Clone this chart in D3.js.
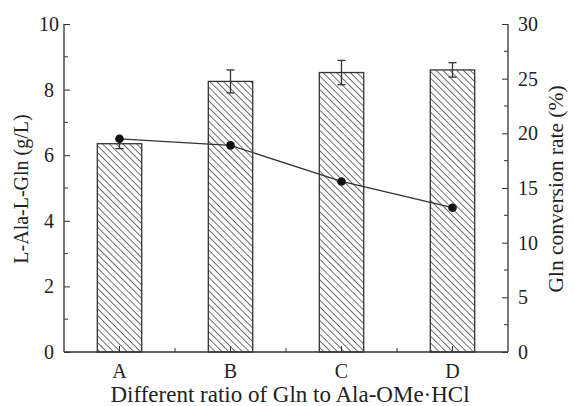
<!DOCTYPE html>
<html>
<head>
<meta charset="utf-8">
<script src="https://cdn.jsdelivr.net/npm/d3@7"></script>
<style>
  body { margin: 0; background: #fff; }
  svg { display: block; }
  text { font-family: "Liberation Serif", "Times New Roman", serif; fill: #222; }
</style>
</head>
<body>
<svg id="chart" width="574" height="406"></svg>
<script>
// Categories and measured values
const categories = ["A", "B", "C", "D"];
const dipeptide = [6.35, 8.25, 8.52, 8.6];       // L-Ala-L-Gln (g/L)
const dipeptideErr = [0.15, 0.35, 0.37, 0.22];   // error bar half-widths
const conversion = [19.5, 18.9, 15.6, 13.2];     // Gln conversion rate (%)
const leftTicks = [0, 2, 4, 6, 8, 10];
const rightTicks = [0, 5, 10, 15, 20, 25, 30];

const svg = d3.select("#chart");
const m = { left: 64, right: 66, top: 24, bottom: 54 };
const W = 574, H = 406;
const x0 = m.left, x1 = W - m.right, y0 = H - m.bottom, y1 = m.top;
const ink = "#333";

const x = d3.scaleBand().domain(categories).range([x0, x1]).paddingInner(0.6).paddingOuter(0.3);
const yL = d3.scaleLinear().domain([0, 10]).range([y0, y1]);
const yR = d3.scaleLinear().domain([0, 30]).range([y0, y1]);

// Diagonal hatch pattern for the bars
const hs = 4.8;
const defs = svg.append("defs");
const pat = defs.append("pattern")
  .attr("id", "hatch").attr("patternUnits", "userSpaceOnUse")
  .attr("width", hs).attr("height", hs)
  .attr("patternTransform", "rotate(45)");
pat.append("rect").attr("width", hs).attr("height", hs).attr("fill", "#fff");
pat.append("line").attr("x1", 0).attr("y1", 0).attr("x2", hs).attr("y2", 0)
  .attr("stroke", "#222").attr("stroke-width", 1.3);

// Bars
svg.append("g").selectAll("rect").data(categories).join("rect")
  .attr("x", d => x(d)).attr("width", x.bandwidth())
  .attr("y", (d, i) => yL(dipeptide[i]))
  .attr("height", (d, i) => yL(0) - yL(dipeptide[i]))
  .attr("fill", "url(#hatch)").attr("stroke", ink).attr("stroke-width", 1.3);

// Error bars
const eb = svg.append("g").attr("stroke", ink).attr("stroke-width", 1.3);
categories.forEach((c, i) => {
  const cx = x(c) + x.bandwidth() / 2;
  const lo = yL(dipeptide[i] - dipeptideErr[i]), hi = yL(dipeptide[i] + dipeptideErr[i]);
  eb.append("line").attr("x1", cx).attr("x2", cx).attr("y1", lo).attr("y2", hi);
  eb.append("line").attr("x1", cx - 4).attr("x2", cx + 4).attr("y1", lo).attr("y2", lo);
  eb.append("line").attr("x1", cx - 4).attr("x2", cx + 4).attr("y1", hi).attr("y2", hi);
});

// Conversion rate line with markers
const cxOf = c => x(c) + x.bandwidth() / 2;
svg.append("path")
  .datum(categories)
  .attr("d", d3.line().x(cxOf).y((d, i) => yR(conversion[i])))
  .attr("fill", "none").attr("stroke", ink).attr("stroke-width", 1.2);
svg.append("g").selectAll("circle").data(categories).join("circle")
  .attr("cx", cxOf).attr("cy", (d, i) => yR(conversion[i]))
  .attr("r", 4.3).attr("fill", "#111");

// Axes (ticks point inward)
const fs = "20px";
const leftAxis = svg.append("g").attr("transform", `translate(${x0},0)`)
  .call(d3.axisLeft(yL).tickValues(leftTicks).tickSize(-6).tickPadding(10).tickFormat(d3.format("d")));
leftAxis.selectAll(".tick text").attr("x", -15).attr("text-anchor", "middle");
leftAxis.append("g").selectAll("line").data(d3.range(1, 10, 2)).join("line")
  .attr("x1", 0).attr("x2", 4).attr("y1", d => yL(d)).attr("y2", d => yL(d)).attr("stroke", ink);

const rightAxis = svg.append("g").attr("transform", `translate(${x1},0)`)
  .call(d3.axisRight(yR).tickValues(rightTicks).tickSize(-6).tickPadding(10).tickFormat(d3.format("d")));
rightAxis.append("g").selectAll("line").data(d3.range(2.5, 30, 5)).join("line")
  .attr("x1", 0).attr("x2", -4).attr("y1", d => yR(d)).attr("y2", d => yR(d)).attr("stroke", ink);

const bottomAxis = svg.append("g").attr("transform", `translate(0,${y0})`)
  .call(d3.axisBottom(x).tickSize(-6).tickPadding(12).tickSizeOuter(0));
const step = x.step();
bottomAxis.append("g").selectAll("line").data(categories.slice(0, -1)).join("line")
  .attr("x1", d => cxOf(d) + step / 2).attr("x2", d => cxOf(d) + step / 2)
  .attr("y1", 0).attr("y2", -4).attr("stroke", ink);

[leftAxis, rightAxis, bottomAxis].forEach(g => {
  g.selectAll(".domain").attr("stroke", ink).attr("stroke-width", 1.3);
  g.selectAll(".tick line").attr("stroke", ink);
  g.selectAll("text").style("font-family", '"Liberation Serif", serif').style("font-size", fs).attr("fill", "#222");
});
leftAxis.select(".domain").attr("d", `M0,${y1}V${y0}`);
rightAxis.select(".domain").attr("d", `M0,${y1}V${y0}`);
bottomAxis.select(".domain").attr("d", `M${x0},0H${x1}`);

// Axis titles
svg.append("text").attr("transform", `translate(23,189) rotate(-90)`)
  .attr("text-anchor", "middle").attr("dominant-baseline", "middle")
  .style("font-size", "20px").text("L-Ala-L-Gln (g/L)");
svg.append("text").attr("transform", `translate(558,189) rotate(-90)`)
  .attr("text-anchor", "middle").attr("dominant-baseline", "middle")
  .style("font-size", "21.5px").text("Gln conversion rate (%)");
svg.append("text").attr("x", 290).attr("y", 402)
  .attr("text-anchor", "middle").style("font-size", "23px")
  .text("Different ratio of Gln to Ala-OMe·HCl");
</script>
</body>
</html>
